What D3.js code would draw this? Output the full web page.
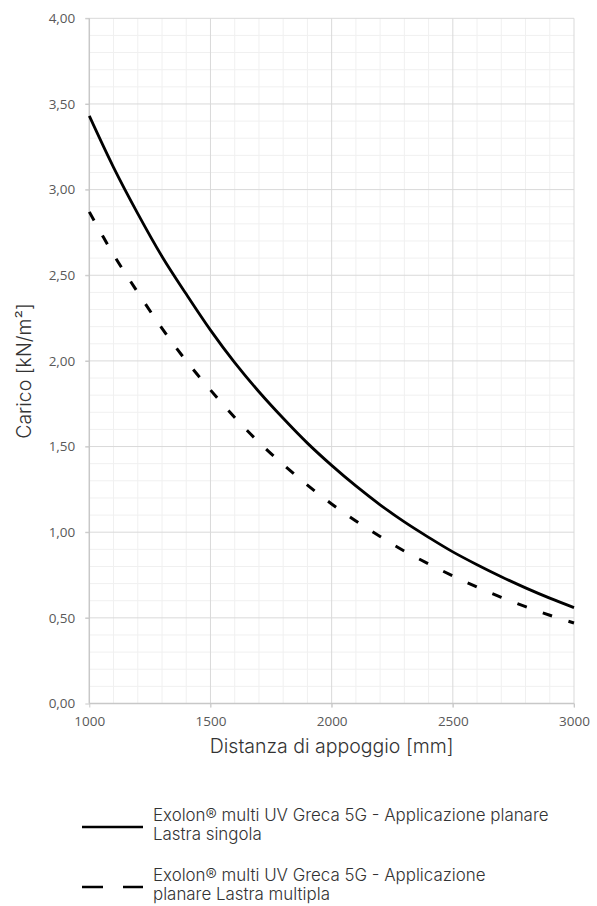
<!DOCTYPE html>
<html>
<head>
<meta charset="utf-8">
<script src="https://cdn.jsdelivr.net/npm/d3@7"></script>
<style>
  body { margin: 0; background: #fff; }
  svg text { fill: #333; }
</style>
</head>
<body>
<svg id="chart" width="597" height="906"></svg>
<script>
var distances = [1000, 1100, 1200, 1300, 1400, 1500, 1600, 1700, 1800, 1900, 2000,
                 2100, 2200, 2300, 2400, 2500, 2600, 2700, 2800, 2900, 3000];
var singola = [3.43, 3.13, 2.86, 2.61, 2.39, 2.18, 1.99, 1.82, 1.665, 1.52, 1.39,
               1.27, 1.16, 1.06, 0.97, 0.885, 0.81, 0.74, 0.675, 0.615, 0.56];
var multipla = [2.87, 2.62, 2.40, 2.19, 2.00, 1.83, 1.67, 1.525, 1.395, 1.275, 1.165,
                1.065, 0.975, 0.89, 0.815, 0.745, 0.68, 0.62, 0.565, 0.515, 0.47];
var x_ticks = [1000, 1500, 2000, 2500, 3000];
var y_ticks = [0, 0.5, 1, 1.5, 2, 2.5, 3, 3.5, 4];
var legend_labels = [
    ["Exolon\u00ae multi UV Greca 5G - Applicazione planare", "Lastra singola"],
    ["Exolon\u00ae multi UV Greca 5G - Applicazione", "planare Lastra multipla"]
];

/* plot box, in pixels */
var plot_left = 89.3, plot_right = 574, plot_top = 18.3, plot_bottom = 703.5;

var x = d3.scaleLinear().domain([1000, 3000]).range([plot_left, plot_right]);
var y = d3.scaleLinear().domain([0, 4]).range([plot_bottom, plot_top]);

var svg = d3.select("svg#chart");
var comma = function (v) { return d3.format(".2f")(v).replace(".", ","); };

/* minor grid every 100 mm and 0.1 kN/m2 */
var grid = svg.append("g");
grid.selectAll("line.vminor").data(d3.range(1100, 3000, 100).filter(function (d) { return d % 500; }))
    .enter().append("line")
    .attr("x1", x).attr("x2", x).attr("y1", plot_top).attr("y2", plot_bottom)
    .attr("stroke", "#f0f0f0").attr("stroke-width", 1);
grid.selectAll("line.hminor").data(d3.range(1, 40).filter(function (d) { return d % 5; }))
    .enter().append("line")
    .attr("x1", plot_left).attr("x2", plot_right)
    .attr("y1", function (d) { return y(d / 10); }).attr("y2", function (d) { return y(d / 10); })
    .attr("stroke", "#f0f0f0").attr("stroke-width", 1);

/* major grid */
grid.selectAll("line.vmajor").data(x_ticks.slice(1)).enter().append("line")
    .attr("x1", x).attr("x2", x).attr("y1", plot_top).attr("y2", plot_bottom + 4)
    .attr("stroke", "#d9d9d9").attr("stroke-width", 1);
grid.selectAll("line.hmajor").data(y_ticks.slice(1)).enter().append("line")
    .attr("x1", plot_left - 4).attr("x2", plot_right)
    .attr("y1", y).attr("y2", y)
    .attr("stroke", "#d9d9d9").attr("stroke-width", 1);

/* axes */
var xAxis = d3.axisBottom(x).tickValues(x_ticks).tickSize(4).tickPadding(9)
    .tickFormat(d3.format("d"));
var gx = svg.append("g").attr("transform", "translate(0," + plot_bottom + ")").call(xAxis);
var yAxis = d3.axisLeft(y).tickValues(y_ticks).tickSize(4).tickPadding(10)
    .tickFormat(comma);
var gy = svg.append("g").attr("transform", "translate(" + plot_left + ",0)").call(yAxis);

[gx, gy].forEach(function (g) {
    g.select(".domain").attr("stroke", "#c8c8c8").attr("stroke-width", 1.5);
    g.selectAll(".tick line").attr("stroke", "#c8c8c8");
    g.selectAll(".tick text").attr("font-family", "Open Sans, sans-serif")
        .attr("font-size", 13.5).style("fill", "#595959");
});
gx.select(".domain").attr("d", "M" + plot_left + ",0H" + plot_right);
gy.select(".domain").attr("d", "M0," + plot_bottom + "V" + plot_top);

/* axis titles */
svg.append("text").attr("x", (plot_left + plot_right) / 2).attr("y", 753)
    .attr("text-anchor", "middle").attr("font-family", "Inter, sans-serif")
    .attr("font-weight", 300).attr("font-size", 19.5).text("Distanza di appoggio [mm]");
svg.append("text").attr("transform", "translate(31,371) rotate(-90)")
    .attr("text-anchor", "middle").attr("font-family", "Inter, sans-serif")
    .attr("font-weight", 300).attr("font-size", 19.5).text("Carico [kN/m\u00b2]");

/* curves */
var line = d3.line()
    .x(function (d) { return x(d[0]); })
    .y(function (d) { return y(d[1]); })
    .curve(d3.curveCatmullRom);

svg.append("path").datum(d3.zip(distances, singola))
    .attr("d", line).attr("fill", "none")
    .attr("stroke", "#000").attr("stroke-width", 2.8);
svg.append("path").datum(d3.zip(distances, multipla))
    .attr("d", line).attr("fill", "none")
    .attr("stroke", "#000").attr("stroke-width", 3)
    .attr("stroke-dasharray", "10,17");

/* legend */
var legend = svg.append("g");
var rows = [827, 887];
legend.selectAll("line.key").data(rows).enter().append("line")
    .attr("x1", 82).attr("x2", 143)
    .attr("y1", function (d) { return d; }).attr("y2", function (d) { return d; })
    .attr("stroke", "#000").attr("stroke-width", 2.5)
    .attr("stroke-dasharray", function (d, i) { return i ? "21,20" : null; });
legend_labels.forEach(function (lines, i) {
    var t = legend.append("text").attr("font-family", "Inter, sans-serif")
        .attr("font-weight", 300).attr("font-size", 16.9);
    lines.forEach(function (s, j) {
        t.append("tspan").attr("x", 153).attr("y", rows[i] - 6 + j * 19).text(s);
    });
});
</script>
</body>
</html>
